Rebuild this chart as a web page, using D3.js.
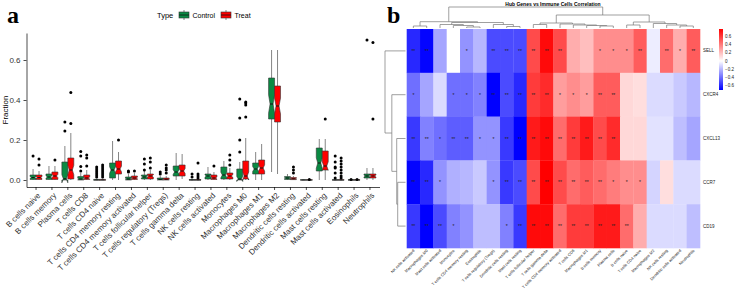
<!DOCTYPE html>
<html>
<head>
<meta charset="utf-8">
<script src="https://cdn.jsdelivr.net/npm/d3@7"></script>
<style>
  body { margin: 0; background: #fff; }
  svg  { display: block; font-family: "Liberation Sans", Arial, sans-serif; }
</style>
</head>
<body>
<svg id="fig" width="736" height="292"></svg>
<script>
// ---------- panel a : immune cell fractions ----------
const cellTypes = [
  'B cells naive', 'B cells memory', 'Plasma cells', 'T cells CD8', 'T cells CD4 naive',
  'T cells CD4 memory resting', 'T cells CD4 memory activated', 'T cells follicular helper',
  'T cells regulatory (Tregs)', 'T cells gamma delta', 'NK cells resting', 'NK cells activated',
  'Monocytes', 'Macrophages M0', 'Macrophages M1', 'Macrophages M2', 'Dendritic cells resting',
  'Dendritic cells activated', 'Mast cells resting', 'Mast cells activated', 'Eosinophils', 'Neutrophils'
];
const groupN = 50; // samples per group, used for notch size

const ctlLo  = [0, 0, 0, 0, 0, 0, 0, 0, 0, 0, 0, 0, 0, 0, 0, 0.04, 0, 0, 0, 0, 0, 0];
const ctlQ1  = [0.003, 0.003, 0, 0, 0, 0.01, 0, 0.005, 0, 0.02, 0, 0.005, 0.005, 0, 0.03, 0.305, 0.003, 0, 0.045, 0, 0, 0.01];
const ctlMed = [0.012, 0.015, 0.006, 0.005, 0, 0.05, 0.005, 0.015, 0.003, 0.04, 0, 0.02, 0.025, 0.005, 0.055, 0.38, 0.01, 0, 0.085, 0, 0, 0.02];
const ctlQ3  = [0.025, 0.03, 0.09, 0.017, 0.003, 0.085, 0.015, 0.025, 0.01, 0.07, 0.002, 0.03, 0.065, 0.055, 0.085, 0.51, 0.017, 0.001, 0.16, 0.001, 0.001, 0.03];
const ctlHi  = [0.055, 0.07, 0.17, 0.035, 0.007, 0.195, 0.03, 0.045, 0.02, 0.135, 0.004, 0.065, 0.095, 0.09, 0.14, 0.65, 0.03, 0.002, 0.205, 0.002, 0.002, 0.06];
const ctlOut = [
  [0.12], [], [0.245, 0.29], [0.045, 0.067, 0.12, 0.142], [0.015, 0.025, 0.035, 0.045, 0.055, 0.065],
  [], [0.04, 0.045], [0.05, 0.08, 0.105], [0.03, 0.04], [], [0.015, 0.03], [], [],
  [0.14, 0.2, 0.31, 0.405], [], [], [], [], [], [0.01, 0.035, 0.06, 0.065, 0.09, 0.12], [0.003], [0.7]
];

const trtLo  = [0, 0, 0, 0, 0, 0, 0, 0, 0, 0.005, 0, 0, 0, 0, 0, 0.03, 0, 0, 0, 0, 0, 0];
const trtQ1  = [0.003, 0.003, 0.005, 0.003, 0, 0.03, 0.003, 0.005, 0, 0.02, 0, 0.003, 0.005, 0.005, 0.03, 0.29, 0.002, 0, 0.05, 0, 0, 0.01];
const trtMed = [0.012, 0.02, 0.05, 0.01, 0, 0.055, 0.01, 0.02, 0.004, 0.045, 0, 0.01, 0.02, 0.02, 0.06, 0.37, 0.006, 0, 0.07, 0, 0, 0.02];
const trtQ3  = [0.025, 0.04, 0.11, 0.025, 0.003, 0.095, 0.02, 0.03, 0.01, 0.075, 0.002, 0.025, 0.035, 0.095, 0.1, 0.47, 0.012, 0.001, 0.145, 0.001, 0.001, 0.03];
const trtHi  = [0.045, 0.07, 0.235, 0.05, 0.007, 0.14, 0.035, 0.05, 0.02, 0.13, 0.004, 0.04, 0.06, 0.21, 0.18, 0.65, 0.02, 0.002, 0.205, 0.002, 0.002, 0.06];
const trtOut = [
  [0.075, 0.105], [0.1], [0.283, 0.437], [0.07, 0.11, 0.125], [0.015, 0.025, 0.035, 0.045, 0.055, 0.065, 0.075],
  [0.2], [0.045], [0.06, 0.09, 0.11], [0.035, 0.05, 0.06, 0.075], [], [0.01, 0.02, 0.03, 0.085], [0.07],
  [0.075, 0.1, 0.125], [0.315, 0.375, 0.385, 0.39], [], [], [0.035, 0.05, 0.065], [0.003], [0.305],
  [0.01, 0.02, 0.035, 0.05, 0.065, 0.08, 0.095, 0.11], [0.003], [0.305, 0.688]
];
const fracTicks = [0, 0.2, 0.4, 0.6];

// ---------- panel b : hub gene vs immune cell correlation ----------
const genes = ['SELL', 'CXCR4', 'CXCL13', 'CCR7', 'CD19'];
const heatCells = [
  'NK cells activated', 'Macrophages M0', 'Mast cells activated', 'Monocytes', 'T cells CD4 memory resting',
  'Eosinophils', 'T cells regulatory (Tregs)', 'Dendritic cells resting', 'Mast cells resting',
  'T cells follicular helper', 'T cells gamma delta', 'T cells CD4 memory activated', 'T cells CD8',
  'Macrophages M1', 'B cells memory', 'Plasma cells', 'B cells naive', 'T cells CD4 naive',
  'Macrophages M2', 'NK cells resting', 'Dendritic cells activated', 'Neutrophils'
];
const corValues = [
  [-0.6, -0.7, -0.25, 0.0, -0.3, -0.2, -0.5, -0.5, -0.5, 0.55, 0.75, 0.55, 0.25, 0.2, 0.35, 0.35, 0.35, 0.5, -0.05, 0.45, 0.25, 0.5],
  [-0.4, -0.25, -0.1, -0.4, -0.4, -0.35, -0.75, -0.5, -0.6, 0.6, 0.65, 0.3, 0.35, 0.3, 0.5, 0.5, 0.12, 0.1, -0.1, -0.1, -0.15, -0.2],
  [-0.55, -0.35, -0.4, -0.45, -0.45, -0.3, -0.3, -0.55, -0.75, 0.7, 0.75, 0.45, 0.6, 0.7, 0.55, 0.65, 0.12, 0.12, -0.08, -0.08, -0.18, -0.25],
  [-0.7, -0.6, -0.3, -0.22, -0.2, -0.15, -0.3, -0.55, -0.5, 0.55, 0.8, 0.55, 0.45, 0.5, 0.45, 0.4, 0.35, 0.35, -0.12, 0.1, -0.1, -0.1],
  [-0.55, -0.75, -0.5, -0.35, -0.3, -0.18, -0.18, -0.35, -0.55, 0.75, 0.75, 0.45, 0.6, 0.6, 0.7, 0.7, 0.45, 0.25, -0.1, -0.1, -0.1, -0.18]
];
const corStars = [
  ['**', '**', '', '', '*', '', '**', '**', '**', '**', '**', '**', '', '', '*', '*', '*', '**', '', '**', '*', '**'],
  ['*', '', '', '*', '*', '*', '**', '**', '**', '**', '**', '*', '*', '*', '**', '**', '', '', '', '', '', ''],
  ['**', '**', '*', '**', '**', '*', '*', '**', '**', '**', '**', '**', '**', '**', '**', '**', '', '', '', '', '', ''],
  ['**', '**', '*', '', '', '', '*', '**', '**', '**', '**', '**', '**', '**', '**', '*', '*', '*', '', '', '', ''],
  ['**', '**', '**', '*', '', '', '', '*', '**', '**', '**', '**', '**', '**', '**', '**', '**', '', '', '', '', '']
];
const legendTicks = [-0.6, -0.4, -0.2, 0, 0.2, 0.4, 0.6];

// dendrograms: h = merge height
const rowTree = { h: 21, c: ['SELL', { h: 14, c: ['CXCR4', { h: 9, c: ['CXCL13', { h: 8, c: ['CCR7', 'CD19'] }] }] }] };
const colTree = { h: 21, c: [
  { h: 6.3, c: [
    { h: 2, c: [heatCells[0], heatCells[1]] },
    { h: 5.5, c: [
      { h: 3.5, c: [heatCells[2], { h: 2.5, c: [heatCells[3], { h: 1, c: [heatCells[4], heatCells[5]] }] }] },
      { h: 3.5, c: [heatCells[6], { h: 1.5, c: [heatCells[7], heatCells[8]] }] }
    ] }
  ] },
  { h: 13, c: [
    { h: 5, c: [
      { h: 3.5, c: [heatCells[9], heatCells[10]] },
      { h: 4, c: [heatCells[11], { h: 3, c: [heatCells[12], { h: 2.5, c: [heatCells[13], { h: 2, c: [heatCells[14], heatCells[15]] }] }] }] }
    ] },
    { h: 6, c: [
      { h: 3, c: [heatCells[16], heatCells[17]] },
      { h: 4.5, c: [heatCells[18], { h: 3, c: [heatCells[19], { h: 2, c: [heatCells[20], heatCells[21]] }] }] }
    ] }
  ] }
] };

const svg = d3.select('#fig');
svg.append('rect').attr('width', 736).attr('height', 292).attr('fill', '#fff');

/* ================= panel a ================= */
svg.append('text').attr('x', 7).attr('y', 23)
  .style('font-family', '"Liberation Serif", "Times New Roman", serif')
  .style('font-size', '24px').style('font-weight', 'bold').text('a');

const x = d3.scaleBand().domain(cellTypes).range([26.5, 379.5]).paddingInner(0).paddingOuter(0.1);
const y = d3.scaleLinear().domain([-0.035, 0.735]).range([187, 33]);

const groups = [
  { key: 'Control', fill: '#0A8A43', off: -1, lo: ctlLo, q1: ctlQ1, med: ctlMed, q3: ctlQ3, hi: ctlHi, out: ctlOut },
  { key: 'Treat',   fill: '#FF0000', off:  1, lo: trtLo, q1: trtQ1, med: trtMed, q3: trtQ3, hi: trtHi, out: trtOut }
];

const boxes = [];
groups.forEach(gr => cellTypes.forEach((c, i) => boxes.push({
  c, gr, lo: gr.lo[i], q1: gr.q1[i], med: gr.med[i], q3: gr.q3[i], hi: gr.hi[i], out: gr.out[i]
})));

const pa = svg.append('g');
const bw = x.step() * 0.375;
const cx = d => x(d.c) + x.bandwidth() / 2 + d.gr.off * bw / 2;

// whiskers
pa.selectAll('.wh').data(boxes).enter().append('path')
  .attr('d', d => `M${cx(d)},${y(d.hi)}V${y(d.q3)}M${cx(d)},${y(d.q1)}V${y(d.lo)}`)
  .attr('stroke', '#333').attr('stroke-width', 0.6).attr('fill', 'none');

// notched boxes
pa.selectAll('.bx').data(boxes).enter().append('path')
  .attr('d', d => {
    const half = 1.58 * (d.q3 - d.q1) / Math.sqrt(groupN);
    const x0 = cx(d) - bw / 2, x1 = cx(d) + bw / 2, nw = bw * 0.25;
    const nu = y(d.med + half), nl = y(d.med - half), m = y(d.med);
    return `M${x0},${y(d.q3)}L${x0},${nu}L${x0 + nw},${m}L${x0},${nl}L${x0},${y(d.q1)}` +
           `L${x1},${y(d.q1)}L${x1},${nl}L${x1 - nw},${m}L${x1},${nu}L${x1},${y(d.q3)}Z`;
  })
  .attr('fill', d => d.gr.fill).attr('stroke', '#333').attr('stroke-width', 0.6);

// medians
pa.selectAll('.md').data(boxes).enter().append('line')
  .attr('x1', d => cx(d) - bw / 4).attr('x2', d => cx(d) + bw / 4)
  .attr('y1', d => y(d.med)).attr('y2', d => y(d.med))
  .attr('stroke', '#111').attr('stroke-width', 1);

// outliers
const outPts = [];
boxes.forEach(d => d.out.forEach(v => outPts.push({ c: d.c, gr: d.gr, v })));
pa.selectAll('.ol').data(outPts).enter().append('circle')
  .attr('cx', cx).attr('cy', d => y(d.v)).attr('r', 1.5).attr('fill', '#000');

// axes
const yAx = svg.append('g').attr('transform', 'translate(26.5,0)')
  .call(d3.axisLeft(y).tickValues(fracTicks).tickFormat(d3.format('.1f')).tickSize(3).tickSizeOuter(0));
yAx.selectAll('text').style('font-size', '8px').attr('fill', '#333');
yAx.selectAll('line,path').attr('stroke', '#000').attr('stroke-width', 0.7);

const xAx = svg.append('g').attr('transform', 'translate(0,187)')
  .call(d3.axisBottom(x).tickSize(3).tickSizeOuter(0));
xAx.selectAll('line,path').attr('stroke', '#000').attr('stroke-width', 0.7);
xAx.selectAll('text').style('font-size', '8px').attr('fill', '#333')
  .attr('x', 0).attr('y', 0).attr('dy', '0.35em')
  .attr('text-anchor', 'end').attr('transform', 'translate(3,7) rotate(-45)');

svg.append('text').attr('transform', 'translate(8,110) rotate(-90)')
  .attr('text-anchor', 'middle').style('font-size', '8px').text('Fraction');

// legend
const lg = svg.append('g');
lg.append('text').attr('x', 157).attr('y', 18).style('font-size', '7.5px').text('Type');
groups.forEach((gr, i) => {
  const lx = [179, 221][i];
  lg.append('line').attr('x1', lx + 5).attr('x2', lx + 5).attr('y1', 10).attr('y2', 20)
    .attr('stroke', '#333').attr('stroke-width', 0.6);
  lg.append('rect').attr('x', lx).attr('y', 12).attr('width', 10).attr('height', 6)
    .attr('fill', gr.fill).attr('stroke', '#333').attr('stroke-width', 0.6);
  lg.append('line').attr('x1', lx).attr('x2', lx + 10).attr('y1', 15).attr('y2', 15)
    .attr('stroke', '#111').attr('stroke-width', 0.8);
  lg.append('text').attr('x', lx + 13.5).attr('y', 17.5).style('font-size', '7px').text(gr.key);
});

/* ================= panel b ================= */
svg.append('text').attr('x', 387).attr('y', 23)
  .style('font-family', '"Liberation Serif", "Times New Roman", serif')
  .style('font-size', '24px').style('font-weight', 'bold').text('b');

svg.append('text').attr('x', 553).attr('y', 6).attr('text-anchor', 'middle')
  .style('font-size', '5px').style('font-weight', 'bold').text('Hub Genes vs Immune Cells Correlation');

const hx = d3.scaleBand().domain(heatCells).range([406.7, 700]);
const hy = d3.scaleBand().domain(genes).range([29, 248]);
const color = d3.scaleLinear().domain([-0.71, 0, 0.78]).range(['#0000FF', '#FFFFFF', '#FF0000']);

const cells = [];
genes.forEach((g, r) => heatCells.forEach((c, k) => cells.push({ g, c, v: corValues[r][k], s: corStars[r][k] })));

const pb = svg.append('g');
pb.selectAll('rect').data(cells).enter().append('rect')
  .attr('x', d => hx(d.c)).attr('y', d => hy(d.g))
  .attr('width', hx.bandwidth() + 0.3).attr('height', hy.bandwidth() + 0.3)
  .attr('fill', d => color(d.v));

pb.selectAll('.star').data(cells.filter(d => d.s)).enter().append('text')
  .attr('x', d => hx(d.c) + hx.bandwidth() / 2).attr('y', d => hy(d.g) + hy.bandwidth() / 2 + 2)
  .attr('text-anchor', 'middle').style('font-size', '5px').attr('fill', '#222').text(d => d.s);

// row / column labels
pb.selectAll('.rl').data(genes).enter().append('text')
  .attr('x', 703).attr('y', d => hy(d) + hy.bandwidth() / 2).attr('dy', '0.35em')
  .style('font-size', '4.5px').attr('fill', '#222').text(d => d);

pb.selectAll('.cl').data(heatCells).enter().append('text')
  .attr('text-anchor', 'end').style('font-size', '4px').attr('fill', '#222')
  .attr('transform', d => `translate(${hx(d) + hx.bandwidth() / 2 + 1.5},${251}) rotate(-45)`)
  .text(d => d);

// dendrograms
function drawTree (g, node, leafPos, levelPos, pt) {
  if (typeof node === 'string') return { p: leafPos(node), l: levelPos(0) };
  const kids = node.c.map(k => drawTree(g, k, leafPos, levelPos, pt));
  const l = levelPos(node.h);
  const p = d3.mean(kids, k => k.p);
  let d = '';
  kids.forEach(k => { d += `M${pt(k.p, k.l)}L${pt(k.p, l)}`; });
  d += `M${pt(kids[0].p, l)}L${pt(kids[1].p, l)}`;
  g.append('path').attr('d', d).attr('fill', 'none').attr('stroke', '#777').attr('stroke-width', 0.7);
  return { p, l };
}
const dg = svg.append('g');
drawTree(dg, colTree, c => hx(c) + hx.bandwidth() / 2, d3.scaleLinear([0, 21], [28, 7]), (p, l) => `${p},${l}`);
drawTree(dg, rowTree, g => hy(g) + hy.bandwidth() / 2, d3.scaleLinear([0, 21], [405.5, 385]), (p, l) => `${l},${p}`);

// colour legend
const ls = d3.scaleLinear().domain([-0.71, 0.78]).range([90, 29]);
const grad = svg.append('defs').append('linearGradient').attr('id', 'corGrad')
  .attr('x1', 0).attr('y1', 1).attr('x2', 0).attr('y2', 0);
[-0.71, 0, 0.78].forEach(v => grad.append('stop')
  .attr('offset', (v + 0.71) / 1.49).attr('stop-color', color(v)));
svg.append('rect').attr('x', 719).attr('y', 29).attr('width', 4).attr('height', 61).attr('fill', 'url(#corGrad)');
svg.selectAll('.lt').data(legendTicks).enter().append('text')
  .attr('x', 725).attr('y', d => ls(d)).attr('dy', '0.35em')
  .style('font-size', '4.5px').attr('fill', '#222').text(d => d3.format('.1f')(d).replace('0.0', '0').replace('-', '\u2212'));
</script>
</body>
</html>
